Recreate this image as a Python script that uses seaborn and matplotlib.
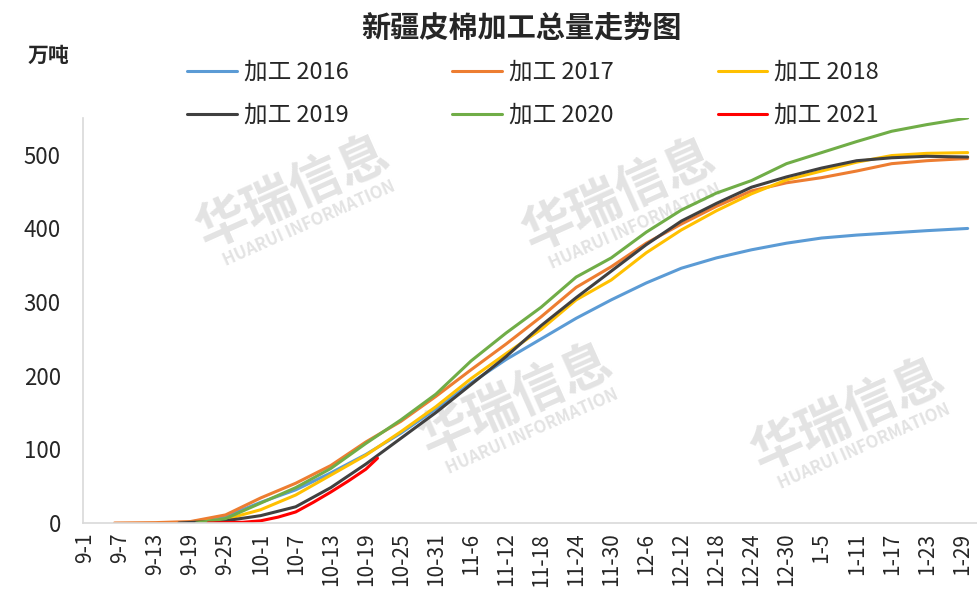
import pandas as pd
import matplotlib.pyplot as plt
import seaborn as sns

# 从 9-1 起的天数
days_2016 = [17, 24, 30, 36, 42, 48, 54, 60, 66, 72, 78, 84, 90, 96, 102, 108, 114, 120, 126, 132, 138, 144, 151]
vals_2016 = [0, 9, 28, 45, 68, 93, 122, 155, 190, 222, 250, 278, 303, 326, 346, 360, 371, 380, 387, 391, 394, 397, 400]

days_2017 = [5, 12, 18, 24, 30, 36, 42, 48, 54, 60, 66, 72, 78, 84, 90, 96, 102, 108, 114, 120, 126, 132, 138, 144, 151]
vals_2017 = [0, 0.5, 2, 11, 34, 54, 78, 110, 138, 172, 208, 243, 280, 320, 348, 380, 406, 430, 451, 462, 469, 478, 488, 492, 495]

days_2018 = [18, 24, 30, 36, 42, 48, 54, 60, 66, 72, 78, 84, 90, 96, 102, 108, 114, 120, 126, 132, 138, 144, 151]
vals_2018 = [0, 5, 18, 38, 65, 92, 124, 158, 196, 230, 263, 303, 330, 367, 398, 424, 447, 466, 478, 490, 499, 502, 503]

days_2019 = [16, 24, 30, 36, 42, 48, 54, 60, 66, 72, 78, 84, 90, 96, 102, 108, 114, 120, 126, 132, 138, 144, 151]
vals_2019 = [0, 3, 10, 22, 48, 80, 115, 150, 188, 226, 268, 306, 342, 378, 410, 434, 456, 470, 482, 492, 496, 498, 497]

days_2020 = [19, 24, 30, 36, 42, 48, 54, 60, 66, 72, 78, 84, 90, 96, 102, 108, 114, 120, 126, 132, 138, 144, 151]
vals_2020 = [0, 6, 27, 48, 74, 108, 140, 175, 220, 258, 293, 334, 360, 395, 425, 448, 465, 488, 503, 518, 532, 541, 550]

days_2021 = [21, 24, 27, 30, 33, 36, 39, 42, 45, 48, 50]
vals_2021 = [0, 0.5, 1, 3, 8, 15, 28, 42, 57, 73, 88]

tick_days = list(range(0, 151, 6))
tick_labels = ['9-1', '9-7', '9-13', '9-19', '9-25', '10-1', '10-7', '10-13', '10-19', '10-25',
               '10-31', '11-6', '11-12', '11-18', '11-24', '11-30', '12-6', '12-12', '12-18',
               '12-24', '12-30', '1-5', '1-11', '1-17', '1-23', '1-29']

series = ['加工 2016', '加工 2017', '加工 2018', '加工 2019', '加工 2020', '加工 2021']
colors = ['#5B9BD5', '#ED7D31', '#FFC000', '#404040', '#70AD47', '#FF0000']

all_days = [days_2016, days_2017, days_2018, days_2019, days_2020, days_2021]
all_vals = [vals_2016, vals_2017, vals_2018, vals_2019, vals_2020, vals_2021]
data = pd.concat([pd.DataFrame({'day': d, 'value': v, 'series': s})
                  for d, v, s in zip(all_days, all_vals, series)], ignore_index=True)

sns.set_style('white')
plt.rcParams['font.family'] = ['Noto Sans CJK SC', 'DejaVu Sans']

W, H = 977, 605
fig = plt.figure(figsize=(W / 100, H / 100), dpi=100)
ax = fig.add_axes([83 / W, 1 - 523 / H, 1 - 83 / W, (523 - 118) / H])

# 水印 (像素位置)
for tx, ty in [(293, 192), (619, 195), (516, 400), (848, 415)]:
    ax.text(tx / W, 1 - ty / H, '华瑞信息', transform=fig.transFigure, fontsize=37,
            fontweight='bold', color='#E3E3E3', rotation=24, ha='center', va='center', zorder=0)
    ax.text((tx + 16) / W, 1 - (ty + 32) / H, 'HUARUI INFORMATION', transform=fig.transFigure,
            fontsize=12, fontweight='bold', color='#E3E3E3', rotation=24,
            ha='center', va='center', zorder=0)

sns.lineplot(data=data, x='day', y='value', hue='series', hue_order=series,
             palette=colors, linewidth=2.2, ax=ax, estimator=None, sort=True)

ax.set_xlim(-0.4, 152.6)
ax.set_ylim(0, 550)
ax.set_xticks(tick_days)
ax.set_xticklabels(tick_labels, rotation=90, fontsize=15)
ax.set_yticks([0, 100, 200, 300, 400, 500])
ax.tick_params(axis='y', labelsize=16, length=4, color='#D9D9D9', pad=12)
ax.tick_params(axis='x', length=4, color='#D9D9D9', pad=3)
ax.set_xlabel('')
ax.set_ylabel('')
for side in ['top', 'right']:
    ax.spines[side].set_visible(False)
for side in ['left', 'bottom']:
    ax.spines[side].set_color('#D9D9D9')
    ax.spines[side].set_linewidth(1.2)

handles, labels = ax.get_legend_handles_labels()
order = [0, 3, 1, 4, 2, 5]
ax.legend([handles[i] for i in order], [labels[i] for i in order], ncol=3,
          loc='upper left', bbox_to_anchor=(187 / W, 1 - 61 / H), bbox_transform=fig.transFigure,
          frameon=False, borderpad=0, borderaxespad=0, fontsize=17, handlelength=2.1,
          handletextpad=0.3, columnspacing=4.4, labelspacing=0.85)

fig.text(521 / W, 1 - 28 / H, '新疆皮棉加工总量走势图', ha='center', va='center',
         fontsize=21, fontweight='bold')
fig.text(28 / W, 1 - 55 / H, '万吨', ha='left', va='center', fontsize=15, fontweight='bold')

plt.savefig('out.png', dpi=100)
plt.close()
